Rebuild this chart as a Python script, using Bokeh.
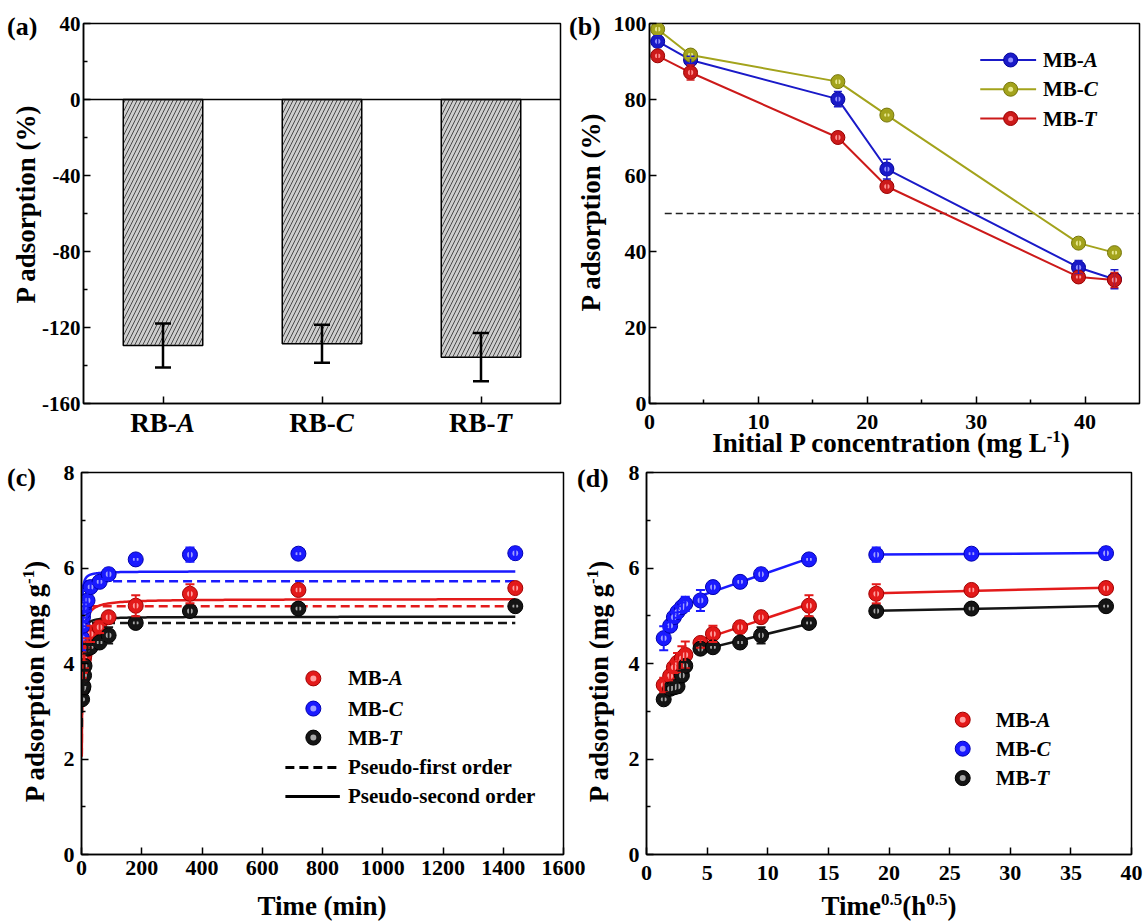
import numpy as np
from bokeh.plotting import figure
from bokeh.models import Range1d, FixedTicker, Label, Span, Whisker, ColumnDataSource, TeeHead, Div
from bokeh.layouts import column, row
from bokeh.embed import file_html
from bokeh.resources import INLINE

FONT = "Liberation Serif"

# ---------------- data ----------------
# (a)
rb_prefix = ["RB-", "RB-", "RB-"]
rb_letter = ["A", "C", "T"]
rb_value = [-129.5, -128.6, -135.6]
rb_error = [11.6, 10.0, 12.7]

# (b)
conc = [0.75, 3.77, 17.3, 21.8, 39.4, 42.7]
b_mba = [95.3, 90.4, 80.1, 61.7, 35.8, 32.7]
b_mba_err = [1.5, 1.0, 2.0, 2.6, 1.8, 2.5]
b_mbc = [98.5, 91.7, 84.7, 75.9, 42.2, 39.7]
b_mbc_err = [0.8, 0.8, 0.8, 0.6, 1.0, 0.7]
b_mbt = [91.5, 87.1, 70.0, 57.1, 33.3, 32.5]
b_mbt_err = [0.8, 2.0, 1.2, 0.8, 0.6, 2.0]
half_level = 50
half_start = 1.4

# (c) / (d)
time_min = [2, 4, 5, 6.5, 8.5, 10, 20, 30, 60, 90, 180, 360, 720, 1440]
time_sqrt = [1.42, 1.95, 2.26, 2.56, 2.92, 3.2, 4.45, 5.48, 7.72, 9.45, 13.4, 18.95, 26.8, 37.9]
q_mba = [3.55, 3.74, 3.92, 4.02, 4.11, 4.18, 4.43, 4.62, 4.76, 4.97, 5.21, 5.46, 5.54, 5.58]
q_mba_err = [0.15, 0.10, 0.12, 0.20, 0.25, 0.28, 0.10, 0.17, 0.12, 0.08, 0.22, 0.20, 0.07, 0.08]
q_mbc = [4.53, 4.79, 4.97, 5.08, 5.18, 5.25, 5.32, 5.60, 5.71, 5.87, 6.18, 6.28, 6.30, 6.31]
q_mbc_err = [0.25, 0.08, 0.10, 0.12, 0.10, 0.15, 0.22, 0.08, 0.06, 0.12, 0.05, 0.15, 0.05, 0.12]
q_mbt = [3.25, 3.47, 3.50, 3.52, 3.75, 3.95, 4.31, 4.34, 4.44, 4.59, 4.85, 5.10, 5.15, 5.20]
q_mbt_err = [0.06, 0.08, 0.10, 0.12, 0.10, 0.08, 0.10, 0.05, 0.05, 0.17, 0.05, 0.08, 0.06, 0.05]

# kinetic model parameters (order: MB-A, MB-C, MB-T)
pfo_qe = [5.20, 5.72, 4.85]
pfo_k1 = [0.5, 1.2, 0.8]
pso_qe = [5.35, 5.93, 4.98]
pso_k2 = [0.12, 0.48, 0.33]

# intra-particle diffusion stages (index boundaries)
stages = [(0, 6), (6, 11), (11, 14)]

# ---------------- helpers ----------------
W = {'-': 333, 'M': 944, 'B': 667}


def tw(text, size):
    return sum(W.get(ch, 500) for ch in text) / 1000.0 * size


def lab(p, x, y, text, size, xo=0, yo=0, align="left", baseline="alphabetic", italic=False):
    # data-space label (used only inside the frame)
    p.add_layout(Label(x=x, y=y, x_offset=xo, y_offset=yo, text=text, text_font=FONT,
                       text_font_size=f"{size}px",
                       text_font_style="bold italic" if italic else "bold",
                       text_align=align, text_baseline=baseline, text_color="black"))


divs = []
SUP = "font-size:17px;vertical-align:10px;line-height:0"


def _base(size, left, top, width, extra=None):
    st = {"position": "absolute", "left": f"{left:.1f}px", "top": f"{top:.1f}px",
          "width": f"{width}px", "height": f"{size}px", "margin": "0", "padding": "0",
          "font-family": f"'{FONT}'", "font-weight": "bold", "font-size": f"{size}px",
          "line-height": "1", "white-space": "nowrap", "color": "black"}
    if extra:
        st.update(extra)
    return st


def hdiv(html, cx, baseline, size, w0=600):
    st = _base(size, cx - w0 / 2, baseline - 0.8375 * size, w0, {"text-align": "center"})
    divs.append(Div(text=html, styles=st, width=w0, height=size))


def ldiv(html, left, cy, size, w0=60):
    st = _base(size, left, cy - size / 2, w0, {"text-align": "left"})
    divs.append(Div(text=html, styles=st, width=w0, height=size))


def vdiv(html, bx, cy, size, w0=400):
    cx = bx - 0.3375 * size
    st = _base(size, cx - w0 / 2, cy - size / 2, w0,
               {"text-align": "center", "transform": "rotate(-90deg)", "transform-origin": "50% 50%"})
    divs.append(Div(text=html, styles=st, width=w0, height=size))


def fx(p, f):
    return p.x_range.start + f * (p.x_range.end - p.x_range.start)


def fy(p, f):
    return p.y_range.end - f * (p.y_range.end - p.y_range.start)


def style(p, tick_size, sx, sy):
    for ax in list(p.xaxis) + list(p.yaxis):
        ax.axis_line_width = 1.5
        ax.axis_line_color = "black"
        ax.major_tick_line_width = 1.5
        ax.minor_tick_line_width = 1.5
        ax.major_tick_line_color = "black"
        ax.minor_tick_line_color = "black"
        ax.major_tick_in = 7
        ax.major_tick_out = 0
        ax.minor_tick_in = 4
        ax.minor_tick_out = 0
        ax.major_label_text_font = FONT
        ax.major_label_text_font_style = "bold"
        ax.major_label_text_font_size = f"{tick_size}px"
        ax.major_label_text_color = "black"
    p.xaxis.major_label_standoff = sx
    p.yaxis.major_label_standoff = sy
    p.xgrid.visible = False
    p.ygrid.visible = False
    p.outline_line_color = "black"
    p.outline_line_width = 1.5
    p.outline_line_alpha = 1.0


def points(p, x, y, err, color, dark, light, size, ew=2, head=9):
    src = ColumnDataSource(dict(x=x, lo=[a - b for a, b in zip(y, err)], hi=[a + b for a, b in zip(y, err)]))
    p.add_layout(Whisker(source=src, base="x", lower="lo", upper="hi", line_color=color, line_width=ew,
                         upper_head=TeeHead(size=head, line_color=color, line_width=ew),
                         lower_head=TeeHead(size=head, line_color=color, line_width=ew), level="glyph"))
    p.scatter(x, y, size=size, fill_color=color, line_color=dark, line_width=1)
    p.scatter(x, y, size=size * 0.38, fill_color=light, line_color=None)


def make_fig(xr, yr, fw, fh, bl, br, bt, bb):
    return figure(output_backend="svg", toolbar_location=None, x_range=Range1d(*xr), y_range=Range1d(*yr),
                  frame_width=fw, frame_height=fh, min_border_left=bl, min_border_right=br,
                  min_border_top=bt, min_border_bottom=bb)


# frame of panel (a) in page pixels (left, right, top, bottom)
FA = (83, 560, 23, 403)

# ---------------- (a) ----------------
pa = make_fig((0, 3), (-160, 40), 477, 380, 83, 5, 23, 52)
style(pa, 21, 6, 3)
pos = [i + 0.5 for i in range(len(rb_value))]
pa.xaxis.ticker = FixedTicker(ticks=pos)
pa.xaxis.major_label_overrides = {v: "" for v in pos}
ya_ticks = [-160, -120, -80, -40, 0, 40]
pa.yaxis.ticker = FixedTicker(ticks=ya_ticks, minor_ticks=[-140, -100, -60, -20, 20])
pa.yaxis.major_label_overrides = {v: str(v) for v in ya_ticks}
pa.vbar(x=pos, top=rb_value, bottom=0, width=0.5, fill_color="#cdcdcd", line_color="black", line_width=1.5,
        hatch_pattern="/", hatch_color="#4a4a4a", hatch_scale=8, hatch_weight=1)
pa.add_layout(Span(location=0, dimension="width", line_color="black", line_width=1.5))
srca = ColumnDataSource(dict(x=pos, lo=[v - e for v, e in zip(rb_value, rb_error)],
                             hi=[v + e for v, e in zip(rb_value, rb_error)]))
pa.add_layout(Whisker(source=srca, base="x", lower="lo", upper="hi", line_color="black", line_width=2.5,
                      upper_head=TeeHead(size=16, line_color="black", line_width=2.5),
                      lower_head=TeeHead(size=16, line_color="black", line_width=2.5), level="glyph"))
for xp, pre, let in zip(pos, rb_prefix, rb_letter):
    cxp = FA[0] + xp / 3.0 * (FA[1] - FA[0])
    hdiv(f"{pre}<i>{let}</i>", cxp, 433, 27, w0=160)
ldiv("(a)", 7, 27, 26)
vdiv("P adsorption (%)", 35, 204, 27)

# ---------------- (b) ----------------
pb = make_fig((0, 45), (0, 100), 490, 380, 84, 5, 23, 52)
style(pb, 22, 11, 3)
pb.xaxis.ticker = FixedTicker(ticks=[0, 10, 20, 30, 40], minor_ticks=[5, 15, 25, 35])
pb.yaxis.ticker = FixedTicker(ticks=[0, 20, 40, 60, 80, 100])
pb.line([half_start, pb.x_range.end], [half_level, half_level], line_color="#222222", line_width=1.5,
        line_dash="7 4")
b_series = [("A", b_mba, b_mba_err, "#1a1ac8", "#00009a", "#9090ff"),
            ("C", b_mbc, b_mbc_err, "#a3a31c", "#76760a", "#e8e890"),
            ("T", b_mbt, b_mbt_err, "#cc1a1a", "#9a0000", "#ff9090")]
for i, (let, ys, es, c, dk, lt) in enumerate(b_series):
    pb.line(conc, ys, line_color=c, line_width=2)
    points(pb, conc, ys, es, c, dk, lt, 14, ew=1.5, head=8)
    ry = fy(pb, [0.096, 0.173, 0.250][i])
    pb.line([fx(pb, 0.675), fx(pb, 0.789)], [ry, ry], line_color=c, line_width=2)
    pb.scatter([fx(pb, 0.737)], [ry], size=14, fill_color=c, line_color=dk, line_width=1)
    pb.scatter([fx(pb, 0.737)], [ry], size=5, fill_color=lt, line_color=None)
    lab(pb, fx(pb, 0.803), ry, "MB-", 21, baseline="middle")
    lab(pb, fx(pb, 0.803), ry, let, 21, xo=tw("MB-", 21), baseline="middle", italic=True)
ldiv("(b)", 569, 27, 26)
vdiv("P adsorption (%)", 600, 212, 27)
hdiv(f"Initial P concentration (mg L<sup style='{SUP}'>-1</sup>)", 891, 453, 27)

# ---------------- (c) ----------------
pc = make_fig((0, 1600), (0, 8), 482, 382, 81, 35, 17, 67)
style(pc, 22, 6, 7)
pc.xaxis.ticker = FixedTicker(ticks=list(range(0, 1601, 200)))
pc.yaxis.ticker = FixedTicker(ticks=[0, 2, 4, 6, 8], minor_ticks=[1, 3, 5, 7])
cd_series = [("A", q_mba, q_mba_err, "#e31a1a", "#a00000", "#ffa0a0"),
             ("C", q_mbc, q_mbc_err, "#1a1aff", "#0000b0", "#a0a0ff"),
             ("T", q_mbt, q_mbt_err, "#151515", "#000000", "#a8a8a8")]
tgrid = np.concatenate([np.linspace(1, 60, 400), np.linspace(60, 1440, 200)[1:]])
for i, (let, ys, es, c, dk, lt) in enumerate(cd_series):
    q1 = pfo_qe[i] * (1 - np.exp(-pfo_k1[i] * tgrid))
    q2 = pso_qe[i] ** 2 * pso_k2[i] * tgrid / (1 + pso_qe[i] * pso_k2[i] * tgrid)
    pc.line(tgrid, q1, line_color=c, line_width=2.5, line_dash="9 5")
    pc.line(tgrid, q2, line_color=c, line_width=2.5)
for i, (let, ys, es, c, dk, lt) in enumerate(cd_series):
    points(pc, time_min, ys, es, c, dk, lt, 15)
    ry = fy(pc, [0.539, 0.618, 0.694][i])
    pc.scatter([fx(pc, 0.481)], [ry], size=15, fill_color=c, line_color=dk, line_width=1)
    pc.scatter([fx(pc, 0.481)], [ry], size=6, fill_color=lt, line_color=None)
    lab(pc, fx(pc, 0.553), ry, "MB-", 21, baseline="middle")
    lab(pc, fx(pc, 0.553), ry, let, 21, xo=tw("MB-", 21), baseline="middle", italic=True)
for frow, dash, txt in [(0.772, "9 5", "Pseudo-first order"), (0.848, "solid", "Pseudo-second order")]:
    ry = fy(pc, frow)
    pc.line([fx(pc, 0.423), fx(pc, 0.536)], [ry, ry], line_color="black", line_width=3, line_dash=dash)
    lab(pc, fx(pc, 0.553), ry, txt, 21, baseline="middle")
ldiv("(c)", 7, 478, 26)
vdiv(f"P adsorption (mg g<sup style='{SUP}'>-1</sup>)", 44, 681, 27)
hdiv("Time (min)", 322, 916, 27)

# ---------------- (d) ----------------
pd = make_fig((0, 40), (0, 8), 485, 382, 73, 13, 17, 67)
pd.margin = (0, 0, 0, -25)
pd.border_fill_color = None
style(pd, 22, 11, 7)
pd.xaxis.ticker = FixedTicker(ticks=list(range(0, 41, 5)))
pd.yaxis.ticker = FixedTicker(ticks=[0, 2, 4, 6, 8], minor_ticks=[1, 3, 5, 7])
for i, (let, ys, es, c, dk, lt) in enumerate(cd_series):
    for a, b in stages:
        xs = np.array(time_sqrt[a:b])
        coef = np.polyfit(xs, np.array(ys[a:b]), 1)
        ends = np.array([xs[0], xs[-1]])
        pd.line(ends, np.polyval(coef, ends), line_color=c, line_width=2.5)
for i, (let, ys, es, c, dk, lt) in enumerate(cd_series):
    points(pd, time_sqrt, ys, es, c, dk, lt, 15)
    ry = fy(pd, [0.647, 0.723, 0.800][i])
    pd.scatter([fx(pd, 0.652)], [ry], size=15, fill_color=c, line_color=dk, line_width=1)
    pd.scatter([fx(pd, 0.652)], [ry], size=6, fill_color=lt, line_color=None)
    lab(pd, fx(pd, 0.72), ry, "MB-", 21, baseline="middle")
    lab(pd, fx(pd, 0.72), ry, let, 21, xo=tw("MB-", 21), baseline="middle", italic=True)
ldiv("(d)", 577, 479, 26)
vdiv(f"P adsorption (mg g<sup style='{SUP}'>-1</sup>)", 608, 681, 27)
hdiv(f"Time<sup style='{SUP}'>0.5</sup>(h<sup style='{SUP}'>0.5</sup>)", 889, 916, 27)

layout = column(row(pa, pb), row(pc, pd), *divs)
open("out.html", "w").write(file_html(layout, INLINE))
